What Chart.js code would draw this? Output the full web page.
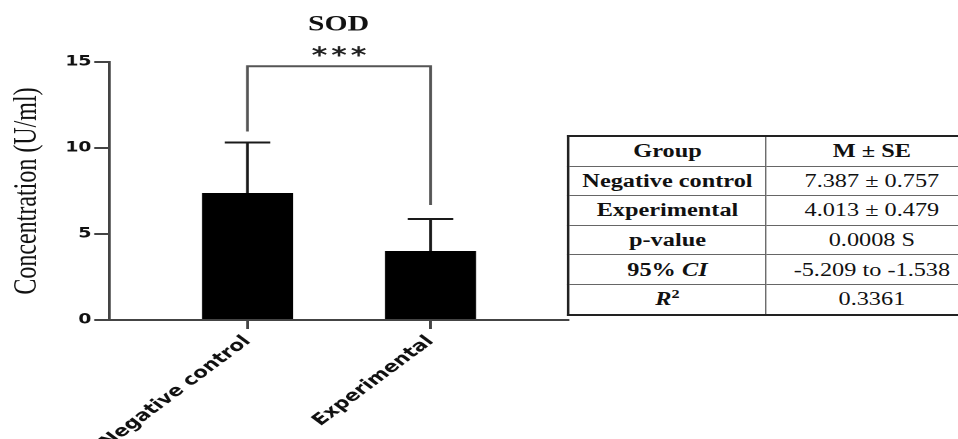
<!DOCTYPE html>
<html><head><meta charset="utf-8">
<script src="https://cdn.jsdelivr.net/npm/chart.js@4"></script>
<style>
html,body{margin:0;padding:0;background:#fff;overflow:hidden;width:958px;height:439px}
#wrap{position:absolute;left:0;top:0;width:710px;height:439px;transform:scaleX(1.3493);transform-origin:0 0;overflow:hidden}
#c{position:absolute;left:0;top:0;width:710px;height:439px}
#tbl{position:absolute;left:420.2px;top:135px;border-collapse:collapse;border:2px solid #222;font-family:"Liberation Serif",serif;font-size:18px;color:#111;background:#fff;table-layout:fixed;width:304px}
#tbl td{border:1px solid #666;text-align:center;padding:0;height:28.6px;line-height:20px;white-space:nowrap}
#tbl td:first-child{font-weight:bold}
#tbl tr:first-child td{font-weight:bold}
#tbl sup{font-size:12px;line-height:0}
</style></head><body>
<div id="wrap"><canvas id="c" width="710" height="439"></canvas><table id="tbl"><colgroup><col style="width:146.5px"><col style="width:157.5px"></colgroup><tbody id="tb"></tbody></table></div>
<script>
// ---- data ----
const categories = ['Negative control', 'Experimental'];
const means = [7.387, 4.013];
const errUp = [2.93, 1.86];
const yTicks = [0, 5, 10, 15];
const sigLabel = '***';
const bracketLevel = 14.75;
const chartTitle = 'SOD';
const yTitle = 'Concentration (U/ml)';
const tableHeader = ['Group', 'M ± SE'];
const tableRowLabels = ['Negative control', 'Experimental', 'p-value', '95% <i>CI</i>', '<i>R</i><sup>2</sup>'];
const tableRowValues = ['7.387 ± 0.757', '4.013 ± 0.479', '0.0008 S', '-5.209 to -1.538', '0.3361'];

// ---- table ----
const tb = document.getElementById('tb');
let html = '<tr><td>' + tableHeader[0] + '</td><td>' + tableHeader[1] + '</td></tr>';
tableRowLabels.forEach((l, i) => { html += '<tr><td>' + l + '</td><td>' + tableRowValues[i] + '</td></tr>'; });
tb.innerHTML = html;

// ---- overlay plugin: error bars, bracket, significance ----
const overlay = {
  id: 'overlay',
  afterDatasetsDraw(chart) {
    const ctx = chart.ctx, ys = chart.scales.y, meta = chart.getDatasetMeta(0);
    ctx.save();
    ctx.strokeStyle = '#1a1a1a';
    ctx.lineWidth = 2;
    const tops = [];
    meta.data.forEach((bar, i) => {
      const yT = ys.getPixelForValue(means[i] + errUp[i]);
      const hw = bar.width * 0.25;
      tops.push(yT);
      ctx.beginPath();
      ctx.moveTo(bar.x, bar.y); ctx.lineTo(bar.x, yT);
      ctx.moveTo(bar.x - hw, yT); ctx.lineTo(bar.x + hw, yT);
      ctx.stroke();
    });
    const yb = ys.getPixelForValue(bracketLevel);
    const x0 = meta.data[0].x, x1 = meta.data[1].x;
    ctx.strokeStyle = '#555';
    ctx.beginPath();
    ctx.moveTo(x0, tops[0] - 11); ctx.lineTo(x0, yb); ctx.lineTo(x1, yb); ctx.lineTo(x1, tops[1] - 14);
    ctx.stroke();
    ctx.fillStyle = '#222';
    ctx.font = 'bold 22px "DejaVu Sans"';
    ctx.letterSpacing = '3px';
    ctx.textAlign = 'left';
    ctx.textBaseline = 'alphabetic';
    const w = ctx.measureText(sigLabel).width;
    ctx.fillText(sigLabel, (x0 + x1) / 2 - w / 2 + 1.5, yb - 4);
    ctx.restore();
  }
};

new Chart(document.getElementById('c'), {
  type: 'bar',
  data: {
    datasets: [{
      data: means.map((m, i) => ({ x: i + 1, y: m })),
      backgroundColor: '#000',
      borderWidth: 0,
      barPercentage: 0.497,
      categoryPercentage: 1
    }]
  },
  options: {
    responsive: false,
    devicePixelRatio: 2,
    animation: false,
    layout: { padding: { left: 0, top: 0, right: 289, bottom: 0 } },
    plugins: {
      legend: { display: false },
      tooltip: { enabled: false },
      title: {
        display: true, text: chartTitle, fullSize: false, color: '#111',
        font: { family: '"Liberation Serif"', size: 22, weight: 'bold' },
        padding: { top: 11.8, bottom: 23.8 }
      }
    },
    scales: {
      x: {
        type: 'linear', min: 0.244, max: 2.751, offset: false, bounds: 'ticks',
        afterDataLimits: s => { s.min = 0.244; s.max = 2.751; },
        afterBuildTicks: s => { s.ticks = categories.map((c, i) => ({ value: i + 1 })); },
        afterFit: s => { s.height = 119; },
        grid: { offset: false, drawOnChartArea: false, drawTicks: true, tickLength: 9, color: '#444', lineWidth: 2 },
        border: { display: true, color: '#444', width: 2 },
        ticks: {
          autoSkip: false, minRotation: 45, maxRotation: 45, padding: 3, color: '#111',
          font: { family: '"DejaVu Sans"', size: 16, weight: 'bold' },
          callback: (v, i) => categories[i]
        }
      },
      y: {
        min: 0, max: 15,
        afterBuildTicks: s => { s.ticks = yTicks.map(v => ({ value: v })); },
        afterFit: s => { s.width = 80.8; },
        grid: { drawOnChartArea: false, drawTicks: true, tickLength: 11, color: '#444', lineWidth: 2 },
        border: { display: true, color: '#444', width: 2 },
        ticks: { padding: 2, color: '#111', font: { family: '"DejaVu Sans"', size: 14, weight: 'bold' } },
        title: {
          display: true, text: yTitle, color: '#111',
          font: { family: '"Liberation Serif"', size: 24, weight: 'normal' },
          padding: { top: 6, bottom: 0 }
        }
      }
    }
  },
  plugins: [overlay]
});
</script>
</body></html>
